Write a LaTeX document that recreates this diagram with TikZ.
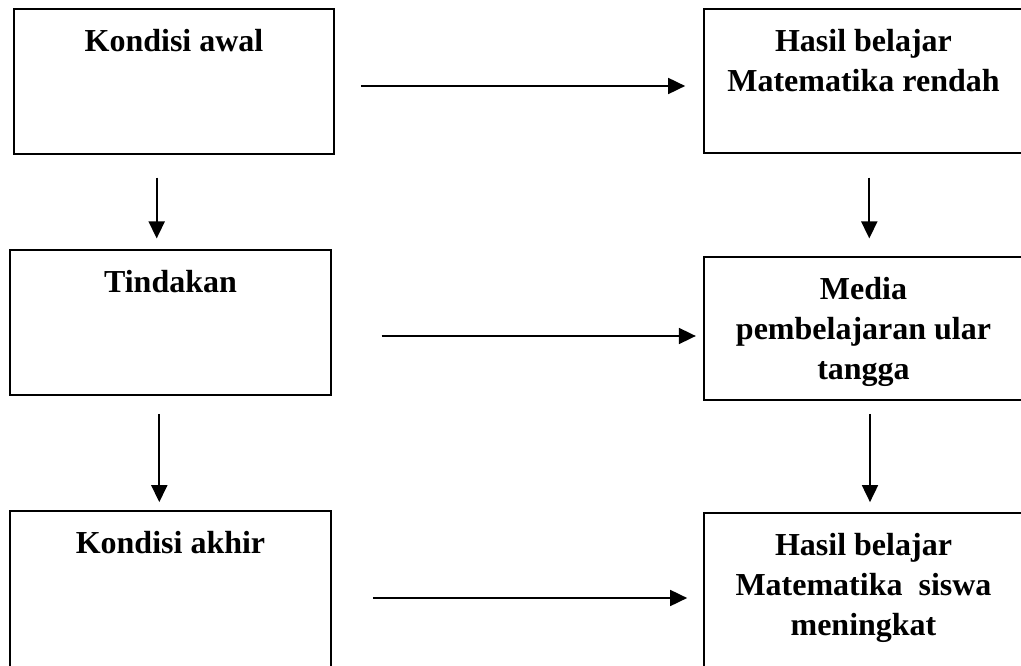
\documentclass[tikz,border=0pt]{standalone}
\usepackage{fontspec}
\setmainfont{Liberation Serif}
\usetikzlibrary{positioning,arrows.meta}

\begin{document}
\begin{tikzpicture}[x=1pt, y=-1pt,
	kotak/.style = {draw, line width=1.7pt, rectangle, inner sep=0pt},
	teks/.style = {inner sep=0pt, align=center, font=\bfseries\fontsize{32}{40}\selectfont},
	panah/.style = {line width=1.8pt, -{Triangle[length=17pt,width=16pt]}}]
	\useasboundingbox (0,0) rectangle (1021,666);

	\node[kotak, minimum width=320pt, minimum height=145pt] (k1) at (174,81.5) {};
	\node[kotak, minimum width=321pt, minimum height=145pt] (k2) at (170.5,322.5) {};
	\node[kotak, minimum width=321pt, minimum height=169pt] (k3) at (170.5,595.5) {};

	\node[kotak, minimum width=319pt, minimum height=144pt] (h1) at (863.5,81) {};
	\node[kotak, minimum width=319pt, minimum height=143pt] (h2) at (863.5,328.5) {};
	\node[kotak, minimum width=319pt, minimum height=167pt] (h3) at (863.5,596.5) {};

	\node[teks, below=21pt of k1.north] (tk1) {Kondisi awal};
	\node[teks, below=21pt of k2.north] (tk2) {Tindakan};
	\node[teks, below=21pt of k3.north] (tk3) {Kondisi akhir};
	\node[teks, below=21pt of h1.north] (th1) {Hasil belajar\\Matematika rendah};
	\node[teks, below=21pt of h2.north] (th2) {Media\\pembelajaran ular\\tangga};
	\node[teks, below=21pt of h3.north] (th3) {Hasil belajar\\Matematika\ \ siswa\\meningkat};

	\draw[panah] ([xshift=26pt,yshift=-4.5pt]k1.east) -- ([xshift=-18pt,yshift=-5pt]h1.west);
	\draw[panah] ([xshift=49.7pt,yshift=-13.5pt]k2.east) -- ([xshift=-7.3pt,yshift=-7.5pt]h2.west);
	\draw[panah] ([xshift=41pt,yshift=-2.5pt]k3.east) -- ([xshift=-16pt,yshift=-1.5pt]h3.west);

	\draw[panah] ([xshift=-17.3pt,yshift=-22.7pt]k1.south) -- ([xshift=-13.8pt,yshift=10.7pt]k2.north);
	\draw[panah] ([xshift=-11.2pt,yshift=-18pt]k2.south) -- ([xshift=-11.2pt,yshift=8pt]k3.north);
	\draw[panah] ([xshift=5.8pt,yshift=-23.7pt]h1.south) -- ([xshift=5.8pt,yshift=17.7pt]h2.north);
	\draw[panah] ([xshift=6.5pt,yshift=-13pt]h2.south) -- ([xshift=6.5pt,yshift=10pt]h3.north);

\end{tikzpicture}
\end{document}
